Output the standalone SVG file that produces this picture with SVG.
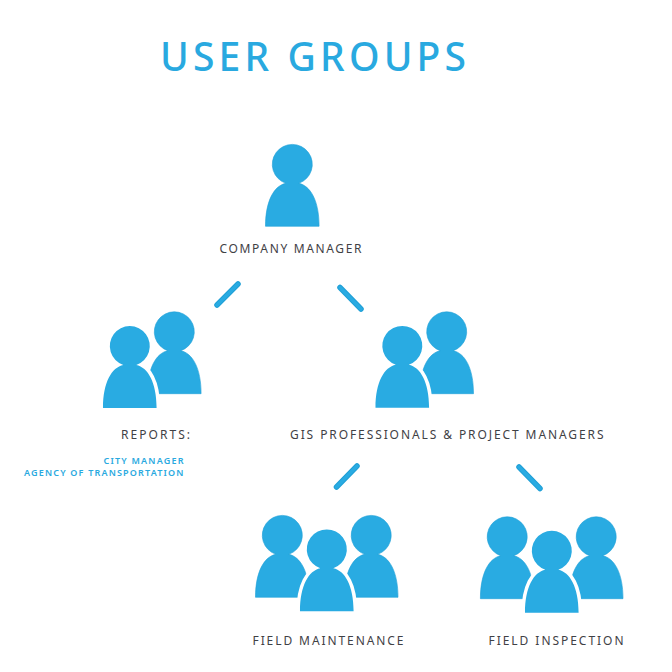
<svg xmlns="http://www.w3.org/2000/svg" width="672" height="672" viewBox="0 0 672 672">
<style>
text{font-family:"Noto Sans","Open Sans",sans-serif}
.title{font-size:39px;font-weight:500;fill:#29a9e0}
.label{font-size:12px;fill:#3f4145}
.sub{font-size:9px;font-weight:600;fill:#29a9e0}
.p{fill:#29abe2;stroke:#1f9fd6;stroke-width:.6}
.front{stroke:#fff;stroke-width:7;paint-order:stroke}
.conn{stroke:#1f9fd6;stroke-width:5.500;stroke-linecap:round;fill:none}
.conn2{stroke:#29abe2;stroke-width:3.500;stroke-linecap:round;fill:none}
</style>
<defs>
<path id="shape" d="M-26.8,62 C-26.800,36 -18,21.500 -6.500,19 A20,20 0 1 1 6.500,19 C18,21.500 26.800,36 26.800,62 Z"/>
</defs>
<rect width="672" height="672" fill="#fff"/>
<text class="title" x="160" y="71" textLength="306">USER GROUPS</text>
<g id="connectors">
<path class="conn" d="M217,305 L238,284M340,287.500 L361,309M336.500,487 L357,466M519,467 L540,488.500"/>
<path class="conn2" d="M217,305 L238,284M340,287.500 L361,309M336.500,487 L357,466M519,467 L540,488.500"/>
</g>
<g id="node-manager">
<use href="#shape" class="p" x="292.300" y="164.300"/>
<text class="label" x="219.500" y="252.700" textLength="142">COMPANY MANAGER</text>
</g>
<g id="node-reports">
<use href="#shape" class="p" x="174.300" y="331.700"/>
<use href="#shape" class="p front" x="129.800" y="346"/>
<text class="label" x="121" y="439" textLength="69">REPORTS:</text>
<text class="sub" x="183.500" y="464.300" text-anchor="end" textLength="80">CITY MANAGER</text>
<text class="sub" x="183.500" y="476.300" text-anchor="end" textLength="159.500">AGENCY OF TRANSPORTATION</text>
</g>
<g id="node-gis">
<use href="#shape" class="p" x="446.700" y="331.700"/>
<use href="#shape" class="p front" x="402.300" y="345.800"/>
<text class="label" x="290" y="439.300" textLength="313.500">GIS PROFESSIONALS &amp; PROJECT MANAGERS</text>
</g>
<g id="node-maintenance">
<use href="#shape" class="p" x="282.300" y="535.300"/>
<use href="#shape" class="p" x="371.200" y="535.300"/>
<use href="#shape" class="p front" x="326.800" y="549.300"/>
<text class="label" x="252.500" y="645" textLength="151">FIELD MAINTENANCE</text>
</g>
<g id="node-inspection">
<use href="#shape" class="p" x="507.200" y="536.700"/>
<use href="#shape" class="p" x="596.200" y="536.700"/>
<use href="#shape" class="p front" x="551.800" y="550.700"/>
<text class="label" x="488.500" y="645" textLength="135">FIELD INSPECTION</text>
</g>
</svg>
